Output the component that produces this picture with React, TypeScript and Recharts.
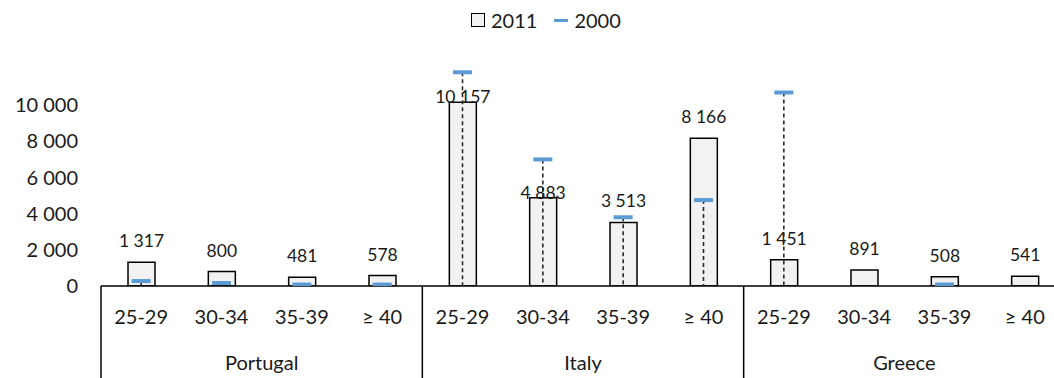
import React from 'react';
import { ComposedChart, Bar, Line, XAxis, YAxis, LabelList } from 'recharts';

const countries = ['Portugal', 'Italy', 'Greece'];
const ageGroups = ['25-29', '30-34', '35-39', '≥ 40'];
const values2011 = [1317, 800, 481, 578, 10157, 4883, 3513, 8166, 1451, 891, 508, 541];
const values2000: (number | null)[] = [275, 165, 80, 80, 11820, 7000, 3800, 4750, 10700, null, 80, null];
const yTicks = [0, 2000, 4000, 6000, 8000, 10000];

const data = values2011.map((v, i) => ({
  key: `${countries[Math.floor(i / 4)]}|${ageGroups[i % 4]}`,
  country: countries[Math.floor(i / 4)],
  age: ageGroups[i % 4],
  y2011: v,
  y2000: values2000[i],
}));

// chart geometry
const CHART_W = 1065;
const CHART_H = 378;
const Y_AXIS_W = 101;
const TOP = 69;
const X_AXIS_H = 92;
const PLOT_BOTTOM = CHART_H - X_AXIS_H;
const BAND = (CHART_W - Y_AXIS_W) / data.length;

const FONT = 'Lato, "Open Sans", sans-serif';
const TEXT = '#1a1a1a';
const BLUE = '#5b9bd5';

// labels sitting on top of the bar instead of above it
const loweredLabels = new Set(['Italy|25-29', 'Italy|30-34']);

const fmt = (v: number) => String(v).replace(/\B(?=(\d{3})+(?!\d))/g, ' ');

const CategoryTick = (props: any) => {
  const { x, payload, index } = props;
  const first = index % 4 === 0;
  return (
    <g>
      <text x={x} y={316} textAnchor="middle" dominantBaseline="central" fontFamily={FONT} fontSize={20} fill={TEXT}>
        {payload.value}
      </text>
      {first && (
        <>
          <line x1={x - BAND / 2} x2={x - BAND / 2} y1={PLOT_BOTTOM} y2={CHART_H} stroke="#000" strokeWidth={1.5} />
          <text x={x + BAND * 1.5} y={362} textAnchor="middle" dominantBaseline="central" fontFamily={FONT} fontSize={20} fill={TEXT}>
            {data[index].country}
          </text>
        </>
      )}
    </g>
  );
};

// 2000 marker: short blue dash with a dashed drop line to the axis
const MarkerDot = (props: any) => {
  const { cx, cy, value } = props;
  if (value == null || cy == null) return <g />;
  return (
    <g>
      <line x1={cx} x2={cx} y1={cy} y2={PLOT_BOTTOM} stroke="#2b2b2b" strokeWidth={1.6} strokeDasharray="4 3" />
      <rect x={cx - 9.5} y={cy - 2} width={19} height={4} fill={BLUE} />
    </g>
  );
};

const BarValueLabel = (props: any) => {
  const { x, y, width, value, index } = props;
  const lowered = loweredLabels.has(data[index].key);
  return (
    <text
      x={x + width / 2}
      y={lowered ? y + 1 : y - 15}
      textAnchor="middle"
      fontFamily={FONT}
      fontSize={17.5}
      fill={TEXT}
    >
      {fmt(value)}
    </text>
  );
};

const LegendBar = () => (
  <div
    style={{
      position: 'absolute',
      top: 7,
      left: 471,
      display: 'flex',
      alignItems: 'center',
      fontFamily: FONT,
      fontSize: 20,
      color: TEXT,
      lineHeight: '26px',
    }}
  >
    <span style={{ width: 12, height: 12, background: '#f2f2f2', border: '1.5px solid #000', marginRight: 6 }} />
    <span>2011</span>
    <span style={{ width: 14, height: 3, background: BLUE, marginLeft: 17, marginRight: 6 }} />
    <span>2000</span>
  </div>
);

export default function App() {
  return (
    <div style={{ position: 'fixed', left: 0, top: 0, width: 1054, height: CHART_H, overflow: 'hidden', background: '#fff' }}>
      <LegendBar />
      <ComposedChart
        width={CHART_W}
        height={CHART_H}
        data={data}
        margin={{ top: TOP, right: 0, bottom: 0, left: 0 }}
      >
        <XAxis
          dataKey="age"
          height={X_AXIS_H}
          interval={0}
          tick={<CategoryTick />}
          tickLine={false}
          axisLine={{ stroke: '#000', strokeWidth: 1.5 }}
        />
        <YAxis
          width={Y_AXIS_W}
          domain={[0, 12000]}
          ticks={yTicks}
          allowDataOverflow
          axisLine={false}
          tickLine={false}
          tickMargin={17}
          tickFormatter={fmt}
          tick={{ fontFamily: FONT, fontSize: 20, fill: TEXT }}
        />
        <Bar dataKey="y2011" barSize={27} fill="#f2f2f2" stroke="#000" strokeWidth={1.5} isAnimationActive={false}>
          <LabelList dataKey="y2011" content={<BarValueLabel />} />
        </Bar>
        <Line
          dataKey="y2000"
          stroke="none"
          dot={<MarkerDot />}
          activeDot={false}
          connectNulls={false}
          isAnimationActive={false}
        />
      </ComposedChart>
    </div>
  );
}
